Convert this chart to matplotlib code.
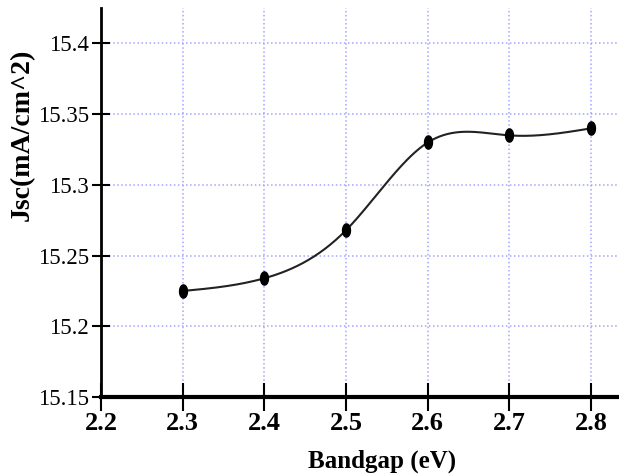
import numpy as np
import matplotlib
matplotlib.use("Agg")
import matplotlib.pyplot as plt
from matplotlib.path import Path

# data
bandgap = [2.3, 2.4, 2.5, 2.6, 2.7, 2.8]
jsc = [15.225, 15.234, 15.268, 15.330, 15.335, 15.340]

xticks = [2.2, 2.3, 2.4, 2.5, 2.6, 2.7, 2.8]
yticks = [15.15, 15.2, 15.25, 15.3, 15.35, 15.4]
ytick_labels = ['15.15', '15.2', '15.25', '15.3', '15.35', '15.4']


def natural_spline(x, y, n=300):
    x = np.asarray(x, float)
    y = np.asarray(y, float)
    h = np.diff(x)
    m = len(x)
    A = np.zeros((m, m))
    b = np.zeros(m)
    A[0, 0] = 1
    A[-1, -1] = 1
    for i in range(1, m - 1):
        A[i, i - 1] = h[i - 1]
        A[i, i] = 2 * (h[i - 1] + h[i])
        A[i, i + 1] = h[i]
        b[i] = 6 * ((y[i + 1] - y[i]) / h[i] - (y[i] - y[i - 1]) / h[i - 1])
    M = np.linalg.solve(A, b)
    xs = np.linspace(x[0], x[-1], n)
    idx = np.clip(np.searchsorted(x, xs) - 1, 0, m - 2)
    x0, x1 = x[idx], x[idx + 1]
    hh = x1 - x0
    t0 = x1 - xs
    t1 = xs - x0
    ys = (M[idx] * t0**3 + M[idx + 1] * t1**3) / (6 * hh) \
        + (y[idx] / hh - M[idx] * hh / 6) * t0 \
        + (y[idx + 1] / hh - M[idx + 1] * hh / 6) * t1
    return xs, ys


# tall ellipse marker
th = np.linspace(0, 2 * np.pi, 40)
ellipse = Path(np.column_stack([0.6 * np.cos(th), np.sin(th)]), closed=True)

fig = plt.figure(figsize=(6.19, 4.75), dpi=100)
ax = fig.add_axes([0.163, 0.164, 0.837, 0.819])

xs, ys = natural_spline(bandgap, jsc)
ax.plot(xs, ys, color='#222222', lw=1.5, zorder=3)
ax.plot(bandgap, jsc, linestyle='none', marker=ellipse, markersize=9.5,
        color='black', zorder=4)

ax.set_xlim(2.2, 2.834)
ax.set_ylim(15.15, 15.425)
ax.set_xticks(xticks)
ax.set_xticklabels([str(t) for t in xticks])
ax.set_yticks(yticks)
ax.set_yticklabels(ytick_labels)

ax.grid(True, color='#a4a4ff', linestyle=':', linewidth=1.1)
ax.set_axisbelow(True)

for s in ['top', 'right']:
    ax.spines[s].set_visible(False)
ax.spines['left'].set_linewidth(2)
ax.spines['bottom'].set_linewidth(3)

ax.tick_params(axis='x', direction='inout', length=20, width=1.5, pad=1)
ax.tick_params(axis='y', direction='inout', length=13, width=1.5, pad=2)

for lab in ax.get_xticklabels():
    lab.set_fontfamily('Liberation Serif')
    lab.set_fontweight('bold')
    lab.set_fontsize(19)
for lab in ax.get_yticklabels():
    lab.set_fontfamily('Liberation Serif')
    lab.set_fontsize(16.5)

ax.set_xlabel('Bandgap (eV)', fontfamily='Liberation Serif',
              fontweight='bold', fontsize=18)
ax.xaxis.set_label_coords(0.543, -0.135)
ax.set_ylabel('Jsc(mA/cm^2)', fontfamily='Liberation Serif',
              fontweight='bold', fontsize=20)
ax.yaxis.set_label_coords(-0.128, 0.674)

fig.savefig('out.png', dpi=100)
